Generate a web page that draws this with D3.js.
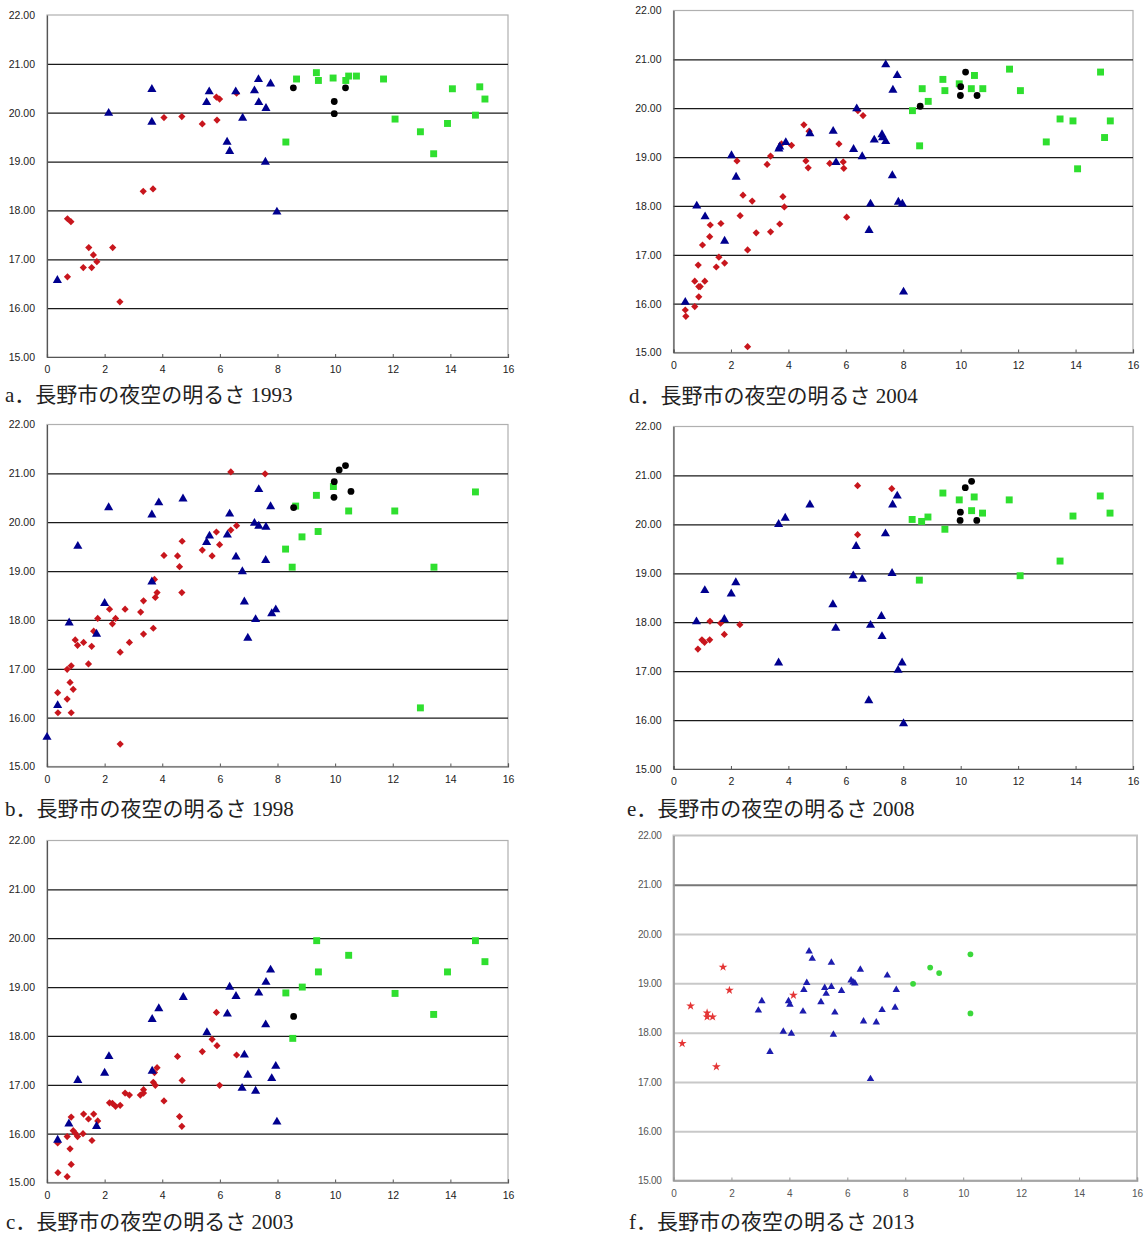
<html>
<head>
<meta charset="utf-8">
<script src="https://d3js.org/d3.v7.min.js"></script>
<style>
  body { margin: 0; background: #fff; }
  svg { display: block; }
</style>
</head>
<body>
<script>

// axis ticks
let yTicks = [15, 16, 17, 18, 19, 20, 21, 22];
let gridTicks = [16, 17, 18, 19, 20, 21];
let xTicks = [0, 2, 4, 6, 8, 10, 12, 14, 16];

// captions
let captions = [
    "a．長野市の夜空の明るさ 1993",
    "b．長野市の夜空の明るさ 1998",
    "c．長野市の夜空の明るさ 2003",
    "d．長野市の夜空の明るさ 2004",
    "e．長野市の夜空の明るさ 2008",
    "f．長野市の夜空の明るさ 2013"
];

// ---- 1993 ----
let red1993 = [[0.71,17.83],[0.83,17.77],[0.71,16.64],[1.26,16.83],[1.55,16.83],[1.45,17.24],[1.61,17.09],[1.73,16.95],[2.28,17.24],[2.53,16.13],[3.34,18.39],[3.68,18.44],[4.06,19.90],[4.68,19.92],[5.39,19.77],[5.88,20.32],[5.99,20.28],[5.90,19.85],[6.58,20.40]];
let blue1993 = [[0.36,16.57],[2.14,19.99],[3.64,20.48],[3.64,19.81],[5.54,20.21],[5.63,20.43],[6.55,20.43],[6.25,19.40],[6.34,19.21],[6.79,19.89],[7.20,20.45],[7.34,20.68],[7.35,20.21],[7.76,20.59],[7.60,20.09],[7.58,18.99],[7.98,17.97]];
let green1993 = [[8.29,19.40],[8.66,20.69],[9.35,20.82],[9.42,20.66],[9.93,20.71],[10.37,20.66],[10.47,20.75],[10.74,20.75],[11.68,20.69],[12.08,19.87],[12.96,19.61],[13.42,19.16],[13.90,19.78],[14.07,20.49],[14.87,19.95],[15.02,20.53],[15.20,20.28]];
let black1993 = [[8.55,20.51],[9.97,20.23],[9.97,19.98],[10.36,20.51]];

// ---- 1998 ----
let red1998 = [[0.37,16.51],[0.38,16.10],[0.70,16.38],[0.70,16.99],[0.84,17.06],[0.80,16.72],[0.91,16.58],[0.84,16.10],[0.98,17.59],[1.06,17.48],[1.27,17.54],[1.44,17.10],[1.55,17.46],[1.62,17.77],[1.76,18.03],[2.17,18.22],[2.27,17.92],[2.38,18.03],[2.54,17.34],[2.71,18.22],[2.86,17.54],[2.54,15.46],[3.25,18.16],[3.35,18.39],[3.35,17.71],[3.69,17.83],[3.73,18.83],[3.76,18.46],[3.82,18.56],[4.06,19.32],[4.53,19.31],[4.60,19.09],[4.69,19.61],[4.68,18.56],[5.39,19.43],[5.73,19.31],[5.88,19.80],[5.99,19.54],[6.38,21.03],[6.38,19.84],[6.58,19.93],[7.57,20.99]];
let blue1998 = [[0.00,15.60],[0.37,16.25],[0.77,17.94],[1.07,19.51],[1.72,17.71],[2.00,18.34],[2.14,20.30],[3.64,20.15],[3.88,20.40],[3.64,18.78],[4.72,20.48],[5.54,19.59],[5.64,19.72],[6.26,19.74],[6.34,20.17],[6.56,19.29],[6.78,18.99],[6.85,18.37],[6.97,17.63],[7.20,19.98],[7.24,18.01],[7.35,19.92],[7.35,20.67],[7.60,19.90],[7.59,19.22],[7.76,20.32],[7.80,18.13],[7.94,18.21]];
let green1998 = [[8.63,20.33],[8.28,19.45],[8.51,19.08],[8.85,19.70],[9.35,20.55],[9.41,19.81],[9.94,20.73],[10.47,20.23],[12.07,20.23],[12.96,16.20],[13.43,19.08],[14.87,20.62]];
let black1998 = [[8.56,20.30],[9.97,20.83],[9.96,20.51],[10.14,21.07],[10.36,21.16],[10.55,20.63]];

// ---- 2003 ----
let red2003 = [[0.37,15.81],[0.38,15.20],[0.70,15.12],[0.70,15.94],[0.80,15.69],[0.84,15.37],[0.84,16.34],[0.91,16.06],[0.98,16.01],[1.06,15.94],[1.25,16.00],[1.27,16.40],[1.44,16.30],[1.56,15.86],[1.62,16.40],[1.76,16.26],[2.17,16.63],[2.27,16.62],[2.38,16.56],[2.54,16.58],[2.71,16.83],[2.86,16.79],[3.24,16.79],[3.35,16.83],[3.35,16.90],[3.69,17.05],[3.73,17.25],[3.76,16.99],[3.82,17.35],[4.06,16.67],[4.53,17.58],[4.60,16.35],[4.68,16.15],[4.69,17.09],[5.39,17.68],[5.73,17.93],[5.88,18.48],[5.90,17.80],[5.99,16.99],[6.58,17.61]];
let blue2003 = [[0.37,15.87],[0.76,16.20],[1.07,17.09],[1.72,16.15],[2.00,17.24],[2.15,17.58],[3.65,18.34],[3.88,18.56],[3.65,17.28],[4.73,18.79],[5.55,18.07],[6.26,18.45],[6.34,19.00],[6.56,18.81],[6.85,17.61],[6.97,17.20],[6.77,16.93],[7.24,16.87],[7.35,18.88],[7.60,19.10],[7.59,18.23],[7.76,19.35],[7.80,17.13],[7.94,17.38],[7.98,16.24]];
let green2003 = [[8.29,18.88],[8.53,17.95],[8.86,19.00],[9.36,19.95],[9.42,19.31],[10.47,19.65],[12.08,18.87],[13.42,18.44],[13.90,19.31],[14.87,19.95],[15.20,19.52]];
let black2003 = [[8.56,18.40]];

// ---- 2004 ----
let red2004 = [[0.41,15.87],[0.43,15.74],[0.74,15.94],[0.74,16.46],[0.86,16.79],[0.88,16.35],[0.93,16.35],[0.88,16.14],[1.01,17.20],[1.09,16.46],[1.26,17.37],[1.28,17.61],[1.49,16.75],[1.58,16.95],[1.65,17.64],[1.78,16.83],[2.21,18.92],[2.32,17.80],[2.42,18.22],[2.58,17.10],[2.58,15.12],[2.74,18.10],[2.88,17.45],[3.26,18.85],[3.38,19.02],[3.38,17.47],[3.70,17.63],[3.76,19.27],[3.81,18.19],[3.86,17.98],[4.11,19.24],[4.54,19.66],[4.72,19.53],[4.61,18.92],[4.69,18.78],[5.44,18.87],[5.76,19.27],[5.91,18.90],[5.93,18.77],[6.03,17.77],[6.42,19.95],[6.60,19.85]];
let blue2004 = [[0.41,16.03],[0.81,18.00],[1.10,17.78],[1.78,17.28],[2.02,19.03],[2.18,18.59],[3.67,19.17],[3.70,19.21],[3.91,19.30],[4.75,19.48],[5.56,19.53],[5.66,18.89],[6.27,19.16],[6.38,19.99],[6.57,19.01],[6.81,17.50],[6.86,18.04],[6.99,19.35],[7.26,19.46],[7.28,19.40],[7.39,19.32],[7.39,20.89],[7.62,18.62],[7.64,20.37],[7.79,20.67],[7.83,18.08],[7.97,18.04],[8.01,16.24]];
let green2004 = [[8.32,19.95],[8.57,19.23],[8.66,20.40],[8.87,20.14],[9.38,20.59],[9.45,20.36],[9.95,20.50],[10.37,20.40],[10.48,20.67],[10.77,20.40],[11.70,20.80],[12.08,20.36],[12.98,19.31],[13.46,19.78],[13.91,19.74],[14.07,18.76],[14.87,20.74],[15.01,19.40],[15.21,19.74]];
let black2004 = [[8.59,20.04],[10.00,20.44],[9.99,20.26],[10.17,20.74],[10.57,20.26]];

// ---- 2008 ----
let red2008 = [[0.85,17.45],[0.99,17.64],[1.08,17.59],[1.27,18.02],[1.26,17.64],[1.64,17.98],[1.77,17.75],[2.31,17.95],[6.41,20.79],[6.41,19.79],[7.60,20.73]];
let blue2008 = [[0.80,18.01],[1.09,18.65],[1.77,18.06],[2.01,18.58],[2.17,18.81],[3.66,20.00],[3.89,20.13],[3.66,17.17],[4.75,20.40],[5.55,18.36],[5.65,17.88],[6.26,18.95],[6.36,19.55],[6.57,18.88],[6.80,16.40],[6.86,17.94],[7.24,18.12],[7.26,17.71],[7.38,19.81],[7.61,19.00],[7.63,20.40],[7.79,20.58],[7.82,17.02],[7.96,17.17],[8.01,15.93]];
let green2008 = [[8.31,20.10],[8.56,18.86],[8.64,20.06],[8.86,20.15],[9.38,20.64],[9.45,19.90],[9.95,20.50],[10.38,20.28],[10.47,20.56],[10.76,20.23],[11.69,20.50],[12.07,18.95],[13.46,19.25],[13.91,20.17],[14.86,20.58],[15.20,20.23]];
let black2008 = [[9.99,20.25],[9.98,20.08],[10.16,20.75],[10.38,20.88],[10.56,20.08]];

// ---- 2013 ----
let red2013 = [[0.30,17.78],[0.59,18.54],[1.16,18.40],[1.16,18.32],[1.35,18.32],[1.48,17.31],[1.71,19.33],[1.93,18.86],[4.14,18.76]];
let blue2013 = [[2.93,18.45],[3.05,18.64],[3.33,17.61],[3.79,18.02],[3.97,18.64],[4.02,18.57],[4.07,17.98],[4.47,18.43],[4.50,18.87],[4.60,19.01],[4.68,19.65],[4.79,19.50],[5.09,18.62],[5.22,18.91],[5.27,18.79],[5.45,18.93],[5.45,19.42],[5.52,17.96],[5.57,18.41],[5.80,18.85],[6.13,19.06],[6.20,19.02],[6.26,19.00],[6.45,19.28],[6.56,18.23],[6.80,17.06],[7.00,18.21],[7.20,18.46],[7.38,19.16],[7.65,18.51],[7.69,18.87]];
let green2013 = [[8.27,18.99],[8.86,19.32],[9.17,19.21],[10.25,19.59],[10.25,18.39]];

let svg = d3.select("body").append("svg")
    .attr("width", 1146)
    .attr("height", 1236);

// panel boxes (plot area) and caption spots
let layout = [
    {l: 47, r: 508, t: 15, b: 357, cx: 5, cy: 402},
    {l: 47, r: 508, t: 424.5, b: 766.5, cx: 5, cy: 816},
    {l: 47, r: 508, t: 840.5, b: 1182.5, cx: 6, cy: 1229},
    {l: 673.5, r: 1133, t: 10.5, b: 352.5, cx: 629, cy: 403},
    {l: 673.5, r: 1133, t: 426.5, b: 769, cx: 627, cy: 816},
    {l: 673.5, r: 1137, t: 835.5, b: 1180.5, cx: 629, cy: 1229}
];

let panelData = [
    [red1993, blue1993, green1993, black1993],
    [red1998, blue1998, green1998, black1998],
    [red2003, blue2003, green2003, black2003],
    [red2004, blue2004, green2004, black2004],
    [red2008, blue2008, green2008, black2008],
    [red2013, blue2013, green2013, []]
];

function drawPanel(i) {
    let p = layout[i];
    let faded = (i == 5);
    let x = d3.scaleLinear().domain([0, 16]).range([p.l, p.r]);
    let y = d3.scaleLinear().domain([15, 22]).range([p.b, p.t]);
    let g = svg.append("g");

    //frame
    g.append("rect")
        .attr("x", p.l).attr("y", p.t)
        .attr("width", p.r - p.l).attr("height", p.b - p.t)
        .attr("fill", "none")
        .attr("stroke", faded ? "#c4c4c4" : "#b0b0b0")
        .attr("stroke-width", faded ? 2 : 1.2);

    //grid lines
    let grid = g.append("g")
        .attr("transform", "translate(" + p.l + ",0)")
        .call(d3.axisLeft(y).tickValues(gridTicks).tickSize(-(p.r - p.l)).tickFormat(""));
    grid.select(".domain").remove();
    grid.selectAll("line")
        .attr("stroke", d => faded ? (d == 21 ? "#777" : "#c8c8c8") : "#1a1a1a")
        .attr("stroke-width", faded ? 2 : 1.2);

    //y axis
    let ya = g.append("g")
        .attr("transform", "translate(" + p.l + ",0)")
        .call(d3.axisLeft(y).tickValues(yTicks).tickSize(0).tickPadding(12).tickFormat(d3.format(".2f")));
    ya.select(".domain").attr("stroke", faded ? "#9a9a9a" : "#555").attr("stroke-width", faded ? 1.6 : 1.2);
    ya.selectAll("text")
        .attr("fill", faded ? "#555" : "#222")
        .style("font-family", "'Liberation Sans', Arial, sans-serif")
        .style("font-size", faded ? "10px" : "10.5px")
        .style("letter-spacing", faded ? "-0.3px" : "0px");

    //x axis
    let xa = g.append("g")
        .attr("transform", "translate(0," + p.b + ")")
        .call(d3.axisBottom(x).tickValues(xTicks).tickSize(-3).tickPadding(9).tickFormat(d3.format("d")));
    xa.select(".domain").attr("stroke", faded ? "#9a9a9a" : "#555").attr("stroke-width", faded ? 1.6 : 1.2);
    xa.selectAll("line").attr("stroke", faded ? "#999" : "#555");
    xa.selectAll("text")
        .attr("fill", faded ? "#555" : "#222")
        .style("font-family", "'Liberation Sans', Arial, sans-serif")
        .style("font-size", faded ? "10px" : "10.5px");

    let [red, blue, green, black] = panelData[i];

    //red diamonds
    g.selectAll(".red").data(red).enter().append("path")
        .attr("d", faded ? d3.symbol().type(d3.symbolStar).size(24)() : d3.symbol().type(d3.symbolSquare).size(26)())
        .attr("transform", d => "translate(" + x(d[0]) + "," + y(d[1]) + ")" + (faded ? "" : " rotate(45)"))
        .attr("fill", faded ? "#e43535" : "#c8161d");

    //blue triangles
    g.selectAll(".blue").data(blue).enter().append("path")
        .attr("d", d3.symbol().type(d3.symbolTriangle).size(faded ? 24 : 36)())
        .attr("transform", d => "translate(" + x(d[0]) + "," + y(d[1]) + ")")
        .attr("fill", faded ? "#1c1cae" : "#00008f");

    //green squares
    g.selectAll(".green").data(green).enter().append("path")
        .attr("d", faded ? d3.symbol().type(d3.symbolCircle).size(26)() : d3.symbol().type(d3.symbolSquare).size(48)())
        .attr("transform", d => "translate(" + x(d[0]) + "," + y(d[1]) + ")")
        .attr("fill", faded ? "#3bd83b" : "#2fdf2f");

    //black circles
    g.selectAll(".black").data(black).enter().append("circle")
        .attr("cx", d => x(d[0]))
        .attr("cy", d => y(d[1]))
        .attr("r", 3.4)
        .attr("fill", "#000");

    //caption
    svg.append("text")
        .attr("x", p.cx)
        .attr("y", p.cy)
        .attr("fill", "#222")
        .style("font-family", "'Liberation Serif', 'Noto Sans CJK JP', serif")
        .style("font-size", "21px")
        .text(captions[i]);
}

for (let i = 0; i < 6; i++) {
    drawPanel(i);
}
</script>
</body>
</html>
